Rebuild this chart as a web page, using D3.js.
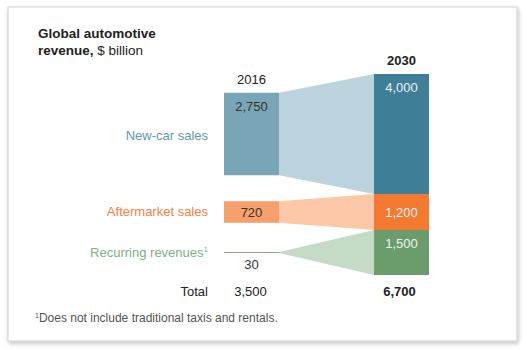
<!DOCTYPE html>
<html>
<head>
<meta charset="utf-8">
<script src="https://cdn.jsdelivr.net/npm/d3@7"></script>
<style>
  body { margin: 0; background: #fff; }
  svg text { font-family: "Liberation Sans", Arial, Helvetica, sans-serif; }
</style>
</head>
<body>
<div id="chart"></div>
<script>
// Chart data
const categories = ["New-car sales", "Aftermarket sales", "Recurring revenues"];
const years = ["2016", "2030"];
const values2016 = [2750, 720, 30];
const values2030 = [4000, 1200, 1500];
const totals = [3500, 6700];

const width = 527;
const height = 350;

const svg = d3.select("#chart")
    .append("svg")
    .attr("width", width)
    .attr("height", height);

// Card with soft shadow
const defs = svg.append("defs");
const shadow = defs.append("filter").attr("id", "shadow")
    .attr("x", "-5%").attr("y", "-5%").attr("width", "110%").attr("height", "115%");
shadow.append("feDropShadow")
    .attr("dx", 1).attr("dy", 2).attr("stdDeviation", 2)
    .attr("flood-color", "#000").attr("flood-opacity", 0.25);

svg.append("rect")
    .attr("x", 8).attr("y", 7)
    .attr("width", 509).attr("height", 334)
    .attr("fill", "#fff")
    .attr("stroke", "#d0d0d0")
    .attr("stroke-width", 1)
    .attr("filter", "url(#shadow)");

// Colours
const barColor2016 = ["#78a6b7", "#f7a06c", "#7fae7f"];
const barColor2030 = ["#3e7e97", "#f47a31", "#6b9c6b"];
const flowColor = ["#bdd4de", "#fcc8a8", "#c6dbc5"];
const labelColor = ["#5e9cb2", "#f4823c", "#7fb07f"];

// Scales
const x = d3.scaleBand()
    .domain(years)
    .range([224, 429])
    .paddingInner(95 / 150)
    .paddingOuter(0);

const h = d3.scaleLinear()
    .domain([0, d3.sum(values2030)])
    .range([0, 201]);

const top2030 = 74;

// 2030 stacked segments
let acc = top2030;
const seg2030 = values2030.map(v => {
    const s = { y0: acc, y1: acc + h(v) };
    acc += h(v);
    return s;
});

// 2016 bars centred on their 2030 counterpart
const seg2016 = values2016.map((v, i) => {
    const mid = (seg2030[i].y0 + seg2030[i].y1) / 2;
    const hh = Math.max(h(v), 1);
    return { y0: mid - hh / 2, y1: mid + hh / 2 };
});

const x16 = x("2016"), x30 = x("2030"), bw = x.bandwidth();

// Flows
svg.selectAll(".flow")
    .data(categories)
    .enter().append("path")
    .attr("class", "flow")
    .attr("d", (d, i) => {
        const a = seg2016[i], b = seg2030[i];
        return `M${x16 + bw},${a.y0}L${x30},${b.y0}L${x30},${b.y1}L${x16 + bw},${a.y1}Z`;
    })
    .attr("fill", (d, i) => flowColor[i]);

// Bars
svg.selectAll(".bar16")
    .data(values2016)
    .enter().append("rect")
    .attr("class", "bar16")
    .attr("x", x16)
    .attr("y", (d, i) => seg2016[i].y0)
    .attr("width", bw)
    .attr("height", (d, i) => seg2016[i].y1 - seg2016[i].y0)
    .attr("fill", (d, i) => barColor2016[i]);

svg.selectAll(".bar30")
    .data(values2030)
    .enter().append("rect")
    .attr("class", "bar30")
    .attr("x", x30)
    .attr("y", (d, i) => seg2030[i].y0)
    .attr("width", bw)
    .attr("height", (d, i) => seg2030[i].y1 - seg2030[i].y0)
    .attr("fill", (d, i) => barColor2030[i]);

// Value labels
function labelY(s) {
    const hh = s.y1 - s.y0;
    if (hh < 5) return s.y1 + 16;
    if (hh < 40) return (s.y0 + s.y1) / 2 + 4.5;
    return s.y0 + 18;
}
const fmt = d3.format(",");

svg.selectAll(".val16")
    .data(values2016)
    .enter().append("text")
    .attr("x", x16 + bw / 2)
    .attr("y", (d, i) => labelY(seg2016[i]))
    .attr("text-anchor", "middle")
    .style("font-size", "13px")
    .attr("fill", "#333")
    .text(d => fmt(d));

svg.selectAll(".val30")
    .data(values2030)
    .enter().append("text")
    .attr("x", x30 + bw / 2)
    .attr("y", (d, i) => labelY(seg2030[i]))
    .attr("text-anchor", "middle")
    .style("font-size", "13px")
    .attr("fill", "#eef3f5")
    .text(d => fmt(d));

// Year headers
svg.append("text")
    .attr("x", x16 + bw / 2).attr("y", 84)
    .attr("text-anchor", "middle")
    .style("font-size", "13px").attr("fill", "#222")
    .text(years[0]);
svg.append("text")
    .attr("x", x30 + bw / 2).attr("y", 65)
    .attr("text-anchor", "middle")
    .style("font-size", "13px").style("font-weight", "bold").attr("fill", "#222")
    .text(years[1]);

// Category labels
const catY = [140, 216, 256.5];
svg.selectAll(".cat")
    .data(categories)
    .enter().append("text")
    .attr("x", 208)
    .attr("y", (d, i) => catY[i])
    .attr("text-anchor", "end")
    .style("font-size", "13px")
    .attr("fill", (d, i) => labelColor[i])
    .each(function(d, i) {
        const t = d3.select(this);
        t.append("tspan").text(d);
        if (i === 2) {
            t.append("tspan").attr("dy", -5).style("font-size", "8px").text("1");
        }
    });

// Totals
svg.append("text")
    .attr("x", 208).attr("y", 296)
    .attr("text-anchor", "end")
    .style("font-size", "13px").attr("fill", "#222")
    .text("Total");
svg.append("text")
    .attr("x", x16 + bw / 2 - 1).attr("y", 296)
    .attr("text-anchor", "middle")
    .style("font-size", "13px").attr("fill", "#222")
    .text(fmt(totals[0]));
svg.append("text")
    .attr("x", x30 + bw / 2 - 2).attr("y", 296)
    .attr("text-anchor", "middle")
    .style("font-size", "13px").style("font-weight", "bold").attr("fill", "#222")
    .text(fmt(totals[1]));

// Title
const title = svg.append("text")
    .attr("x", 38).attr("y", 38)
    .style("font-size", "13.5px").attr("fill", "#222");
title.append("tspan").style("font-weight", "bold").text("Global automotive");
const t2 = svg.append("text")
    .attr("x", 38).attr("y", 55)
    .style("font-size", "13.5px").attr("fill", "#222");
t2.append("tspan").style("font-weight", "bold").text("revenue,");
t2.append("tspan").text(" $ billion");

// Footnote
const foot = svg.append("text")
    .attr("x", 35).attr("y", 322)
    .style("font-size", "12px").attr("fill", "#555");
foot.append("tspan").attr("dy", -4).style("font-size", "7px").text("1");
foot.append("tspan").attr("dy", 4).text("Does not include traditional taxis and rentals.");
</script>
</body>
</html>
